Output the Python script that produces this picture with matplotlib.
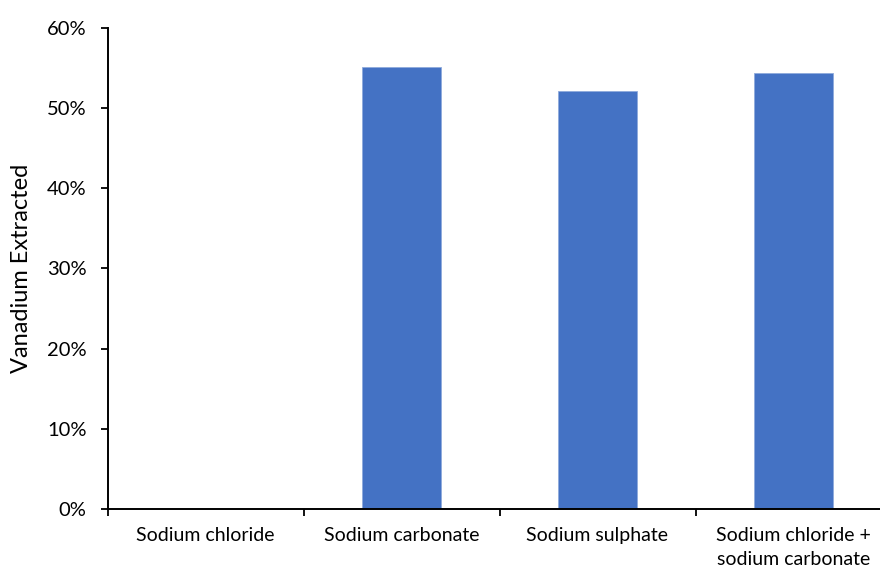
import numpy as np
import matplotlib.pyplot as plt
from matplotlib.ticker import PercentFormatter, FixedLocator, NullFormatter

plt.rcParams['font.family'] = ['Lato', 'DejaVu Sans']

salts = ['Sodium chloride', 'Sodium carbonate', 'Sodium sulphate',
         'Sodium chloride +\nsodium carbonate']
extracted = [0.0, 0.551, 0.522, 0.544]

fig = plt.figure(figsize=(8.8, 5.68), dpi=100)
# axis runs slightly past the right edge of the figure
ax = fig.add_axes([107.5 / 880, 59 / 568, 784 / 880, 481 / 568])

x = np.arange(len(salts))
ax.bar(x, extracted, width=0.403, color='#4472C4', edgecolor='#8FAADC', linewidth=0.6)

ax.set_xlim(-0.5, len(salts) - 0.5)
ax.set_ylim(0, 0.6)
ax.yaxis.set_major_locator(FixedLocator(np.arange(0, 0.61, 0.1)))
ax.yaxis.set_major_formatter(PercentFormatter(1.0, decimals=0))

# category boundaries carry the ticks, names sit between them
ax.set_xticks(x - 0.5)
ax.xaxis.set_major_formatter(NullFormatter())
ax.set_xticks(x, minor=True)
ax.set_xticklabels(salts, minor=True, fontsize=14, va='top', linespacing=1.5)
ax.tick_params(axis='x', which='minor', length=0, pad=13)
ax.tick_params(axis='x', which='major', length=5, width=1.3, direction='out')
ax.tick_params(axis='y', length=5, width=1.3, direction='out', labelsize=14.5, pad=10)

ax.set_ylabel('Vanadium Extracted', fontsize=17, labelpad=11)

for side in ['top', 'right']:
    ax.spines[side].set_visible(False)
for side in ['left', 'bottom']:
    ax.spines[side].set_linewidth(1.4)
    ax.spines[side].set_color('black')

fig.savefig('out.png', dpi=100)
